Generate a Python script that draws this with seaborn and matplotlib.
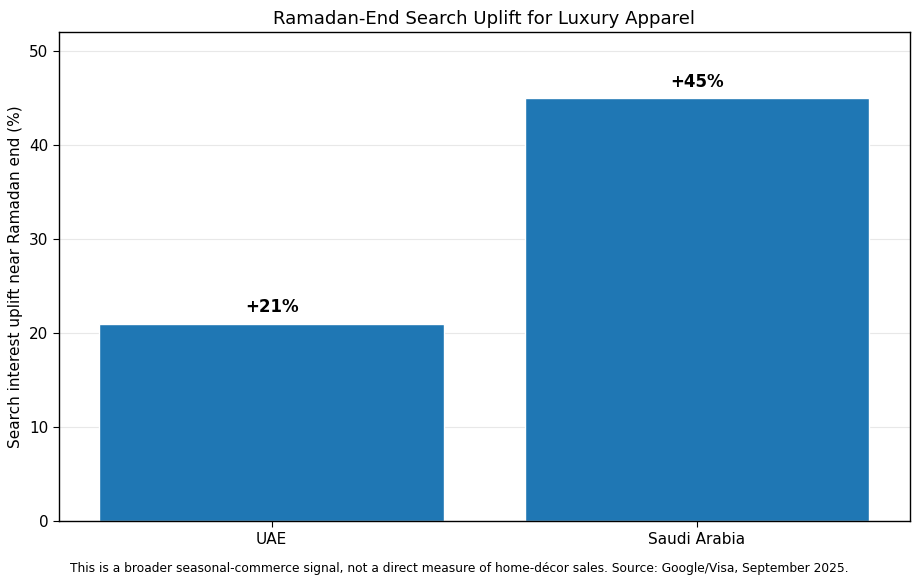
import matplotlib
matplotlib.use("Agg")
import matplotlib.pyplot as plt
import seaborn as sns
import pandas as pd

# data
markets = ["UAE", "Saudi Arabia"]
uplift_pct = [21, 45]
bar_labels = ["+21%", "+45%"]

df = pd.DataFrame({"market": markets, "uplift": uplift_pct})

sns.set_style("white")
plt.rcParams["font.family"] = ["DejaVu Sans"]
plt.rcParams["text.color"] = "black"
plt.rcParams["axes.labelcolor"] = "black"
plt.rcParams["xtick.color"] = "black"
plt.rcParams["ytick.color"] = "black"

fig, ax = plt.subplots(figsize=(9.19, 5.87), dpi=100)
sns.barplot(data=df, x="market", y="uplift", color="#1f77b4", saturation=1,
            width=0.81, ax=ax)

for i, (v, lab) in enumerate(zip(uplift_pct, bar_labels)):
    ax.text(i, v + 0.8, lab, ha="center", va="bottom", fontsize=12,
            fontweight="bold", color="black")

ax.set_ylim(0, 52)
ax.set_xlim(-0.5, 1.5)
ax.set_title("Ramadan-End Search Uplift for Luxury Apparel", fontsize=13.1,
             color="black")
ax.set_xlabel("")
ax.set_ylabel("Search interest uplift near Ramadan end (%)", fontsize=11)
ax.tick_params(axis="both", labelsize=11, length=4, left=True, bottom=True)
ax.yaxis.grid(True, color="#e8e8e8", linewidth=0.8)
ax.set_axisbelow(True)
for s in ax.spines.values():
    s.set_visible(True)
    s.set_color("black")
    s.set_linewidth(1.0)

fig.text(0.5, 0.02,
         "This is a broader seasonal-commerce signal, not a direct measure of "
         "home-décor sales. Source: Google/Visa, September 2025.",
         ha="center", va="bottom", fontsize=8.8)

fig.subplots_adjust(left=0.064, right=0.990, top=0.945, bottom=0.112)
fig.savefig("out.png", dpi=100)
